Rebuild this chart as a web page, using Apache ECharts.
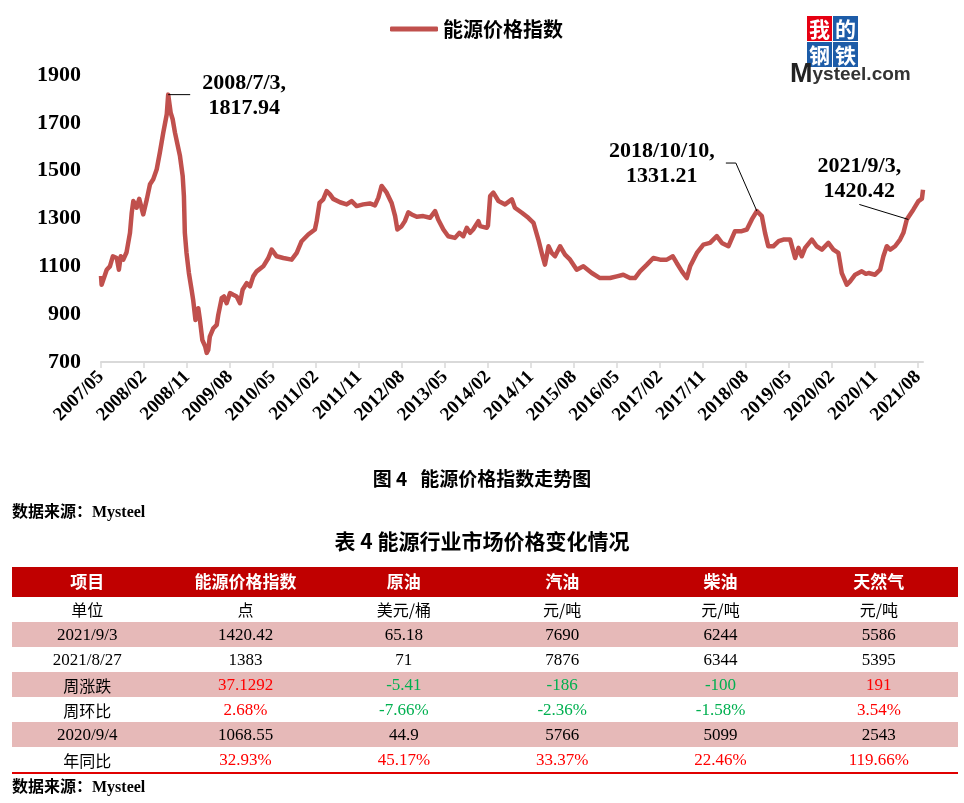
<!DOCTYPE html>
<html>
<head>
<meta charset="utf-8">
<script src="https://cdn.jsdelivr.net/npm/echarts@6/dist/echarts.min.js"></script>
<style>
html,body{margin:0;padding:0;background:#fff;}
#main{width:964px;height:803px;}
</style>
</head>
<body>
<div id="main"></div>
<script>
// ---------- DATA ----------
const seriesName = '能源价格指数';
const dates = [
'2007/05/01','2007/05/05','2007/06/07','2007/06/27','2007/07/16','2007/08/10','2007/08/24','2007/09/05','2007/09/21','2007/10/12',
'2007/11/03','2007/11/14','2007/11/24','2007/12/15','2008/01/01','2008/01/27','2008/02/18','2008/03/09','2008/03/30','2008/04/21',
'2008/05/11','2008/06/02','2008/06/24','2008/07/03','2008/07/19','2008/08/01','2008/08/16','2008/08/30','2008/09/17','2008/10/04',
'2008/10/12','2008/10/18','2008/10/29','2008/11/13','2008/11/30','2008/12/10','2008/12/25','2009/01/12','2009/01/23','2009/02/07',
'2009/02/24','2009/03/05','2009/03/15','2009/03/25','2009/04/16','2009/05/08','2009/05/18','2009/06/09','2009/06/23','2009/07/10',
'2009/08/01','2009/08/22','2009/09/13','2009/10/04','2009/10/21','2009/11/16','2009/12/07','2009/12/28','2010/01/19','2010/02/28',
'2010/04/02','2010/04/23','2010/05/25','2010/07/06','2010/08/29','2010/09/30','2010/11/01','2010/12/13','2011/01/25','2011/02/05',
'2011/02/22','2011/03/17','2011/04/08','2011/04/29','2011/05/20','2011/07/02','2011/08/14','2011/09/15','2011/10/17','2011/11/28',
'2012/01/10','2012/02/11','2012/03/03','2012/03/24','2012/04/25','2012/05/27','2012/06/18','2012/07/02','2012/07/30','2012/08/20',
'2012/09/11','2012/10/02','2012/11/04','2012/12/15','2013/01/28','2013/02/27','2013/03/19','2013/04/21','2013/05/22','2013/07/04',
'2013/08/01','2013/08/27','2013/09/18','2013/10/09','2013/10/29','2013/12/01','2013/12/12','2014/01/24','2014/02/01','2014/02/14',
'2014/03/05','2014/04/07','2014/05/19','2014/07/01','2014/07/21','2014/09/04','2014/10/15','2014/11/17','2014/12/18','2015/01/09',
'2015/01/30','2015/02/20','2015/03/12','2015/04/02','2015/05/04','2015/06/05','2015/07/07','2015/08/19','2015/09/30','2015/11/23',
'2016/01/15','2016/03/18','2016/04/30','2016/06/11','2016/07/24','2016/08/25','2016/09/26','2016/11/09','2016/12/20','2017/02/02',
'2017/03/15','2017/04/22','2017/05/17','2017/06/19','2017/07/20','2017/08/11','2017/09/23','2017/11/04','2017/12/16','2018/01/29',
'2018/02/28','2018/04/11','2018/05/23','2018/07/05','2018/08/07','2018/09/08','2018/10/10','2018/11/11','2018/12/01','2018/12/22',
'2019/01/24','2019/02/25','2019/03/27','2019/05/09','2019/06/10','2019/07/01','2019/07/22','2019/08/13','2019/09/25','2019/10/26',
'2019/11/28','2020/01/09','2020/02/10','2020/03/12','2020/04/03','2020/05/05','2020/05/26','2020/06/27','2020/08/09','2020/09/04',
'2020/09/21','2020/11/02','2020/12/04','2020/12/25','2021/01/16','2021/02/07','2021/03/08','2021/04/09','2021/04/30','2021/05/22',
'2021/06/12','2021/07/03','2021/08/05','2021/08/27','2021/09/03'
];
const values = [
1060,1023,1086,1100,1142,1135,1086,1142,1128,1159,
1240,1324,1373,1345,1382,1317,1380,1443,1464,1506,
1576,1659,1736,1817.94,1743,1715,1659,1617,1561,1478,
1394,1240,1156,1072,1002,960,876,925,876,792,
764,738,750,806,841,855,897,967,974,946,
988,981,974,946,1002,1030,1016,1058,1079,1100,
1135,1170,1142,1135,1128,1156,1205,1233,1254,1289,
1365,1380,1415,1401,1382,1368,1359,1373,1352,1359,
1363,1355,1387,1436,1408,1365,1310,1254,1268,1289,
1326,1317,1307,1310,1303,1331,1296,1254,1226,1219,
1240,1226,1261,1240,1254,1289,1268,1261,1270,1394,
1408,1373,1359,1380,1345,1324,1303,1282,1212,1156,
1107,1184,1156,1142,1184,1149,1128,1086,1100,1072,
1051,1051,1058,1065,1051,1051,1079,1107,1135,1128,
1128,1142,1114,1079,1051,1100,1156,1191,1198,1226,
1198,1184,1247,1247,1254,1296,1331.21,1310,1240,1184,
1184,1205,1212,1212,1135,1177,1142,1177,1212,1184,
1170,1198,1170,1156,1072,1023,1037,1065,1079,1068.55,
1072,1065,1086,1142,1184,1170,1184,1212,1240,1296,
1317,1338,1373,1383,1420.42
];
const tickLabels = ['2007/05','2008/02','2008/11','2009/08','2010/05','2011/02','2011/11','2012/08','2013/05','2014/02',
'2014/11','2015/08','2016/05','2017/02','2017/11','2018/08','2019/05','2020/02','2020/11','2021/08'];
const yMin = 700, yMax = 1900, yStep = 200;

// annotations: [date, value, text]
const annotations = [
  ['2008/07/03', 1817.94, '2008/7/3,\n1817.94'],
  ['2018/10/10', 1331.21, '2018/10/10,\n1331.21'],
  ['2021/09/03', 1420.42, '2021/9/3,\n1420.42']
];

const captionText = '图 4   能源价格指数走势图';
const sourceText = '数据来源：Mysteel';
const tableTitle = '表 4 能源行业市场价格变化情况';
const tableHeaders = ['项目','能源价格指数','原油','汽油','柴油','天然气'];
const tableUnits = ['单位','点','美元/桶','元/吨','元/吨','元/吨'];
const rowLabels = ['2021/9/3','2021/8/27','周涨跌','周环比','2020/9/4','年同比'];
const colIndex = ['1420.42','1383','37.1292','2.68%','1068.55','32.93%'];
const colCrude = ['65.18','71','-5.41','-7.66%','44.9','45.17%'];
const colGasoline = ['7690','7876','-186','-2.36%','5766','33.37%'];
const colDiesel = ['6244','6344','-100','-1.58%','5099','22.46%'];
const colGas = ['5586','5395','191','3.54%','2543','119.66%'];
const signedRows = [2,3,5]; // rows coloured by sign

// ---------- HELPERS ----------
function monthOf(s){
  const p = s.split('/').map(Number);
  const y = p[0], m = p[1], d = p[2] || 1;
  const dim = new Date(y, m, 0).getDate();
  return (y-2007)*12 + (m-5) + (d-1)/dim;
}
const xData = dates.map((d,i)=>[monthOf(d), values[i]]);
const tickVals = tickLabels.map(t=>monthOf(t));
const xMax = monthOf(dates[dates.length-1]);

const SERIF = "'Liberation Serif','Times New Roman','Noto Sans CJK SC',serif";
const CJK = "'Noto Sans CJK SC','Liberation Serif',sans-serif";
const LINE_COLOR = '#c0504d';

const chart = echarts.init(document.getElementById('main'), null, {renderer:'canvas'});

const option = {
  backgroundColor:'#fff',
  animation:false,
  legend:{
    data:[seriesName],
    left:385, top:14,
    icon:'roundRect',
    itemWidth:48, itemHeight:5, itemGap:8,
    textStyle:{fontSize:20, fontWeight:'bold', color:'#000', fontFamily:CJK}
  },
  grid:{left:101, right:41, top:75, bottom:441, containLabel:false},
  xAxis:{
    type:'value', min:0, max:xMax, interval:9,
    axisLine:{show:true, lineStyle:{color:'#d9d9d9', width:2}},
    axisTick:{show:true, length:6, lineStyle:{color:'#d9d9d9', width:1.5}, customValues:tickVals},
    splitLine:{show:false},
    axisLabel:{
      customValues:tickVals,
      rotate:45, margin:12,
      fontFamily:SERIF, fontWeight:'bold', fontSize:19, color:'#000',
      formatter:function(v){
        for(let i=0;i<tickVals.length;i++){ if(Math.abs(tickVals[i]-v)<1e-6) return tickLabels[i]; }
        return '';
      }
    }
  },
  yAxis:{
    type:'value', min:yMin, max:yMax, interval:yStep,
    axisLine:{show:false}, axisTick:{show:false}, splitLine:{show:false},
    axisLabel:{fontFamily:SERIF, fontWeight:'bold', fontSize:22, color:'#000', margin:20,
      formatter:function(v){ return String(v); }}
  },
  series:[{
    name:seriesName, type:'line', data:xData,
    symbol:'none', showSymbol:false,
    lineStyle:{color:LINE_COLOR, width:4.5, join:'round'},
    itemStyle:{color:LINE_COLOR}
  }]
};
chart.setOption(option);

// ---------- GRAPHICS ----------
const g = [];
function px(date, val){ return chart.convertToPixel({gridIndex:0}, [monthOf(date), val]); }
const annFont = 'bold 22px ' + SERIF;
(function(){
  const a0 = px(annotations[0][0], annotations[0][1]);
  g.push({type:'line', shape:{x1:a0[0], y1:a0[1], x2:a0[0]+22, y2:a0[1]}, style:{stroke:'#000', lineWidth:1}, z:10});
  g.push({type:'text', x:a0[0]+76, y:a0[1]+1, z:10, style:{text:annotations[0][2], font:annFont, fill:'#000', textAlign:'center', textVerticalAlign:'middle', lineHeight:25}});

  const a1 = px(annotations[1][0], annotations[1][1]);
  g.push({type:'polyline', shape:{points:[[a1[0], a1[1]], [a1[0]-21, a1[1]-48], [a1[0]-31, a1[1]-48]]}, style:{stroke:'#000', lineWidth:1, fill:null}, z:10});
  g.push({type:'text', x:a1[0]-95, y:a1[1]-47, z:10, style:{text:annotations[1][2], font:annFont, fill:'#000', textAlign:'center', textVerticalAlign:'middle', lineHeight:25}});

  const a2 = px('2021/06/01', 1296);
  g.push({type:'line', shape:{x1:a2[0], y1:a2[1], x2:a2[0]-49, y2:a2[1]-15}, style:{stroke:'#000', lineWidth:1}, z:10});
  g.push({type:'text', x:a2[0]-49, y:a2[1]-41, z:10, style:{text:annotations[2][2], font:annFont, fill:'#000', textAlign:'center', textVerticalAlign:'middle', lineHeight:25}});
})();

// logo
const logoChars = [['我','#e60012'],['的','#1d5ca8'],['钢','#1d5ca8'],['铁','#1d5ca8']];
logoChars.forEach((c,i)=>{
  const lx = 807 + (i%2)*26, ly = 16 + Math.floor(i/2)*26;
  g.push({type:'rect', shape:{x:lx, y:ly, width:25, height:25}, style:{fill:c[1]}});
  g.push({type:'text', x:lx+12.5, y:ly+13, style:{text:c[0], font:"bold 21px "+CJK, fill:'#fff', textAlign:'center', textVerticalAlign:'middle'}});
});
g.push({type:'text', x:790, y:75, style:{
  text:'{m|M}{s|ysteel}{c|.com}', textVerticalAlign:'middle', textAlign:'left',
  rich:{
    m:{fontSize:27, fontWeight:'bold', fontFamily:"'Liberation Sans',Arial,sans-serif", fill:'#222', color:'#222'},
    s:{fontSize:19, fontWeight:'bold', fontFamily:"'Liberation Sans',Arial,sans-serif", fill:'#333', color:'#333'},
    c:{fontSize:19, fontWeight:'bold', fontFamily:"'Liberation Sans',Arial,sans-serif", fill:'#333', color:'#333'}
  }
}});

// captions
g.push({type:'text', x:482, y:479, style:{text:captionText, font:'bold 19px '+CJK, fill:'#000', textAlign:'center', textVerticalAlign:'middle'}});
g.push({type:'text', x:12, y:513, style:{text:sourceText, font:'bold 16px '+SERIF, fill:'#000', textAlign:'left', textVerticalAlign:'middle'}});
g.push({type:'text', x:482, y:541, style:{text:tableTitle, font:'bold 21px '+CJK, fill:'#000', textAlign:'center', textVerticalAlign:'middle'}});

// table
const tX0 = 8, tW = 950, colW = tW/6, bandX = 12, bandW = 946;
const headerTop = 567, headerH = 30, unitH = 25, rowH = 25;
g.push({type:'rect', shape:{x:bandX, y:headerTop, width:bandW, height:headerH}, style:{fill:'#c00000'}});
tableHeaders.forEach((h,i)=>{
  g.push({type:'text', x:tX0+colW*(i+0.5), y:headerTop+headerH/2, style:{text:h, font:'bold 17px '+CJK, fill:'#fff', textAlign:'center', textVerticalAlign:'middle'}});
});
const unitTop = headerTop+headerH;
tableUnits.forEach((u,i)=>{
  g.push({type:'text', x:tX0+colW*(i+0.5), y:unitTop+unitH/2, style:{text:u, font:'16px '+CJK, fill:'#000', textAlign:'center', textVerticalAlign:'middle'}});
});
const cols = [rowLabels, colIndex, colCrude, colGasoline, colDiesel, colGas];
const bodyTop = unitTop+unitH;
rowLabels.forEach((r,ri)=>{
  const ry = bodyTop + ri*rowH;
  if(ri%2===0){
    g.push({type:'rect', shape:{x:bandX, y:ry, width:bandW, height:rowH}, style:{fill:'#e6b9b8'}});
  }
  cols.forEach((col,ci)=>{
    const txt = col[ri];
    let fill = '#000';
    if(ci>0 && signedRows.indexOf(ri)>=0){ fill = txt.charAt(0)==='-' ? '#00b050' : '#ff0000'; }
    const isCjk = /[\u4e00-\u9fff]/.test(txt);
    g.push({type:'text', x:tX0+colW*(ci+0.5), y:ry+rowH/2+1, style:{text:txt, font:(isCjk?'16px '+CJK:'17px '+SERIF), fill:fill, textAlign:'center', textVerticalAlign:'middle'}});
  });
});
const tableBottom = bodyTop + rowLabels.length*rowH;
g.push({type:'rect', shape:{x:bandX, y:tableBottom, width:bandW, height:2}, style:{fill:'#e00000'}});
g.push({type:'text', x:12, y:tableBottom+16, style:{text:sourceText, font:'bold 16px '+SERIF, fill:'#000', textAlign:'left', textVerticalAlign:'middle'}});

chart.setOption({graphic:{elements:g}});
</script>
</body>
</html>
